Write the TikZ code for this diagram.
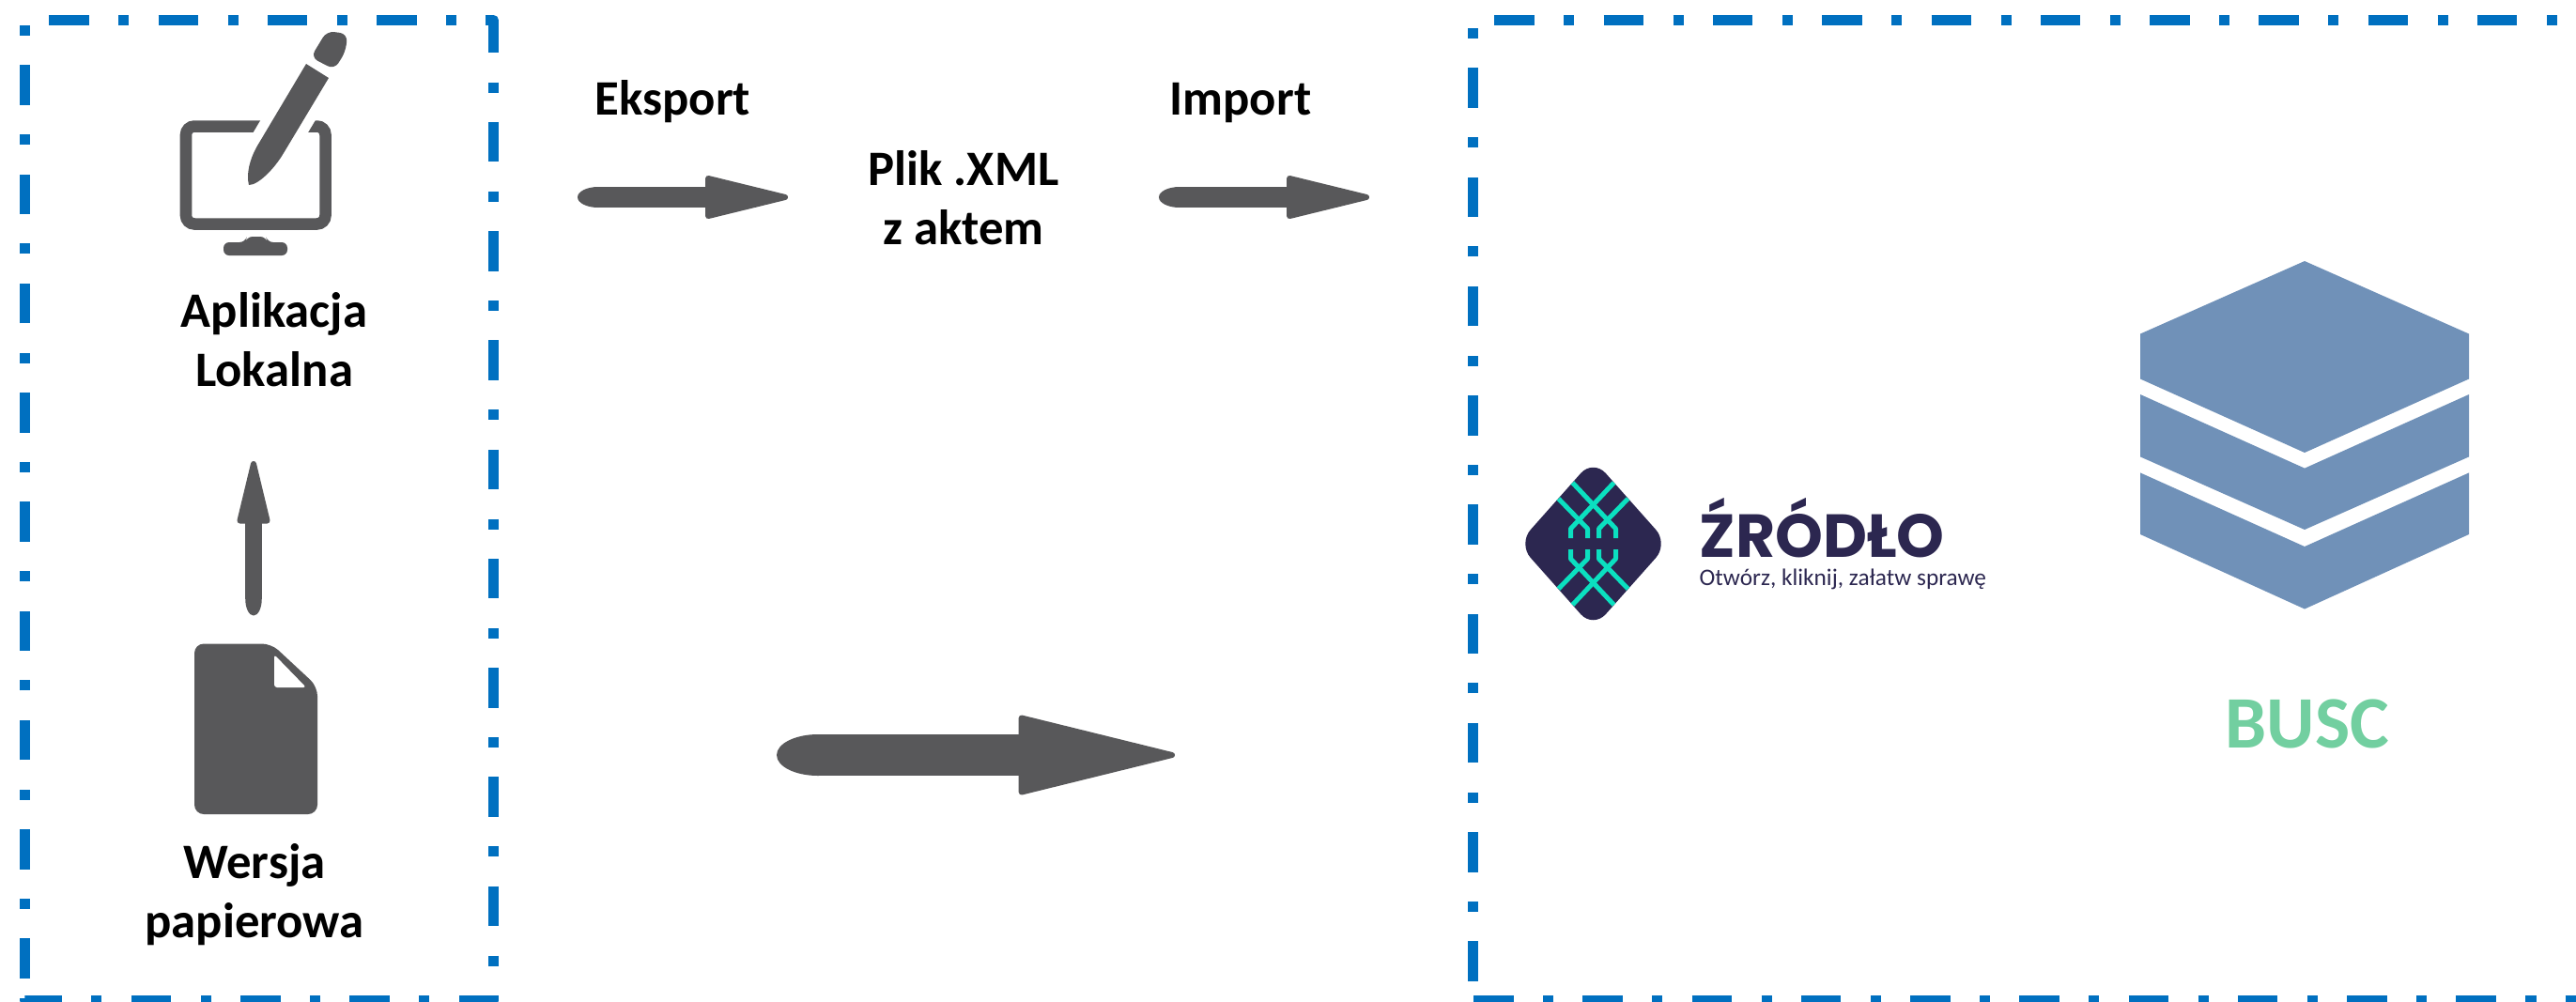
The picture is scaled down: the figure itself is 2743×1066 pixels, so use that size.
\documentclass[tikz,border=0pt]{standalone}
\usepackage{fontspec}
\setmainfont{Carlito}
\newfontfamily\logofont{Poppins}
\usetikzlibrary{calc,arrows.meta,positioning}
\definecolor{busblue}{HTML}{0070C0}
\definecolor{icongray}{HTML}{58585A}
\definecolor{hexblue}{HTML}{7091B8}
\definecolor{buscgreen}{HTML}{72CFA0}
\definecolor{logonavy}{HTML}{2C2750}
\definecolor{logoteal}{HTML}{0BE0C0}
\tikzset{
  boxline/.style={busblue,line width=0.11cm,line join=round,dash pattern=on 0.425cm off 0.315cm on 0.11cm off 0.312cm},
  label/.style={font=\bfseries\fontsize{15}{17.7}\selectfont,inner sep=0,align=center,text=black},
  blockarrow/.style n args={3}{icongray,line width=#1cm,-{Triangle[length=#2cm,width=#3cm,line width=0.06cm,round]}},
  strand/.style={logoteal,line width=0.05cm,line join=round},
}
\begin{document}
\begin{tikzpicture}[x=0.01cm,y=-0.01cm]
\useasboundingbox (0,0) rectangle (2743,1066);

% ramki
\coordinate (LA) at (26.5,1042);
\coordinate (LB) at (525.5,21.5);
\coordinate (LC) at (26.5,1065.5);
\draw[boxline] (LA) |- (LB) |- (LC) -- (LA);
\coordinate (RA) at (1568.5,1045);
\coordinate (RB) at (2743,21.5);
\coordinate (RC) at (1569,1065.5);
\coordinate (RD) at (2743,1065.5);
\draw[boxline] (RA) |- (RB);
\draw[boxline] (RC) -- (RD);

% monitor
\draw[icongray,line width=0.125cm,rounded corners=0.09cm,fill=white] (198,134.5) rectangle (346.5,238.5);
\fill[icongray,rounded corners=0.06cm] (238,272) -- (238,258) -- (261,258) -- (263,252) -- (283,252) -- (285,258) -- (306,258) -- (306,272) -- cycle;
% pisak
\fill[icongray,preaction={draw=white,line width=0.22cm}] (326,68) -- (350,83) -- (302,163) .. controls (292,180) and (275,197) .. (265,197) .. controls (262,185) and (266,170) .. (273,157) -- cycle;
\fill[icongray,rounded corners=0.08cm] (331,61) -- (356,74) -- (368,55) -- (370,36) -- (348,33) -- cycle;

% kartka
\fill[icongray,rounded corners=0.1cm] (207,685.5) -- (289,685.5) -- (338,731) -- (338,867) -- (207,867) -- cycle;
\fill[white,rounded corners=0.03cm] (292,697) -- (326,732) -- (292,732) -- cycle;

% strzalki
\coordinate (upA) at (270,638);
\coordinate (upB) at (270,491);
\coordinate (expA) at (637,210);
\coordinate (expB) at (839,210);
\coordinate (impA) at (1256,210);
\coordinate (impB) at (1458,210);
\coordinate (bigA) at (871,804);
\coordinate (bigB) at (1251,804);
\draw[blockarrow={0.175}{0.77}{0.35}] (upA) -- (upB);
\draw[blockarrow={0.22}{0.98}{0.46}] (expA) -- (expB);
\draw[blockarrow={0.22}{0.98}{0.46}] (impA) -- (impB);
\draw[blockarrow={0.44}{1.76}{0.85}] (bigA) -- (bigB);
\foreach \v/\a/\b in {upA/8.75/17.5, expA/22/11, impA/22/11, bigA/44/22}
{
    \fill[icongray] (\v) ellipse [x radius=\a,y radius=\b];
};

% BUSC
\fill[hexblue] (2454,278) -- (2629,355.5) -- (2629,403.5) -- (2454,482) -- (2279,403.5) -- (2279,355.5) -- cycle;
\fill[hexblue] (2279,420) -- (2454,498.6) -- (2629,420) -- (2629,486.4) -- (2454,564) -- (2279,486.4) -- cycle;
\fill[hexblue] (2279,503.4) -- (2454,582) -- (2629,503.4) -- (2629,569) -- (2454,648.5) -- (2279,569) -- cycle;

% logo
\coordinate (logo) at (1696.5,579);
\begin{scope}[shift={(logo)}]
\fill[logonavy,rounded corners=0.2cm] (0,-90) -- (80,0) -- (0,90) -- (-80,0) -- cycle;
\foreach \s in {1,-1}{
  \draw[strand] (-22,\s*-65) -- (24,\s*-16) -- (24,\s*-6);
  \draw[strand] (22,\s*-65) -- (-24,\s*-16) -- (-24,\s*-6);
  \draw[strand] (-37,\s*-48) -- (-6,\s*-16) -- (-6,\s*-6);
  \draw[strand] (37,\s*-48) -- (6,\s*-16) -- (6,\s*-6);
};
\end{scope}

\node[label,anchor=base] (aplikacja) at (292,411) {Aplikacja\\Lokalna};
\node[label,anchor=base] (wersja) at (271,998) {Wersja\\papierowa};
\node[label,anchor=base] (eksport) at (716.5,122) {Eksport};
\node[label,anchor=base] (import) at (1321,122) {Import};
\node[label,anchor=base] (plik) at (1026,260) {Plik .XML\\z aktem};
\node[anchor=base,inner sep=0,text=buscgreen,font=\bfseries\fontsize{22.4}{26}\selectfont] (busc) at (2457,796) {BUSC};
\node[anchor=base west,inner sep=0,text depth=0pt,text=logonavy,font=\logofont\bfseries\fontsize{18.4}{20}\selectfont] (zrodlo) at (1809,593) {ŹRÓDŁO};
\node[anchor=base west,inner sep=0,text=logonavy,font=\fontsize{7.2}{8}\selectfont] (haslo) at (1809,623) {Otwórz, kliknij, załatw sprawę};
\end{tikzpicture}
\end{document}
